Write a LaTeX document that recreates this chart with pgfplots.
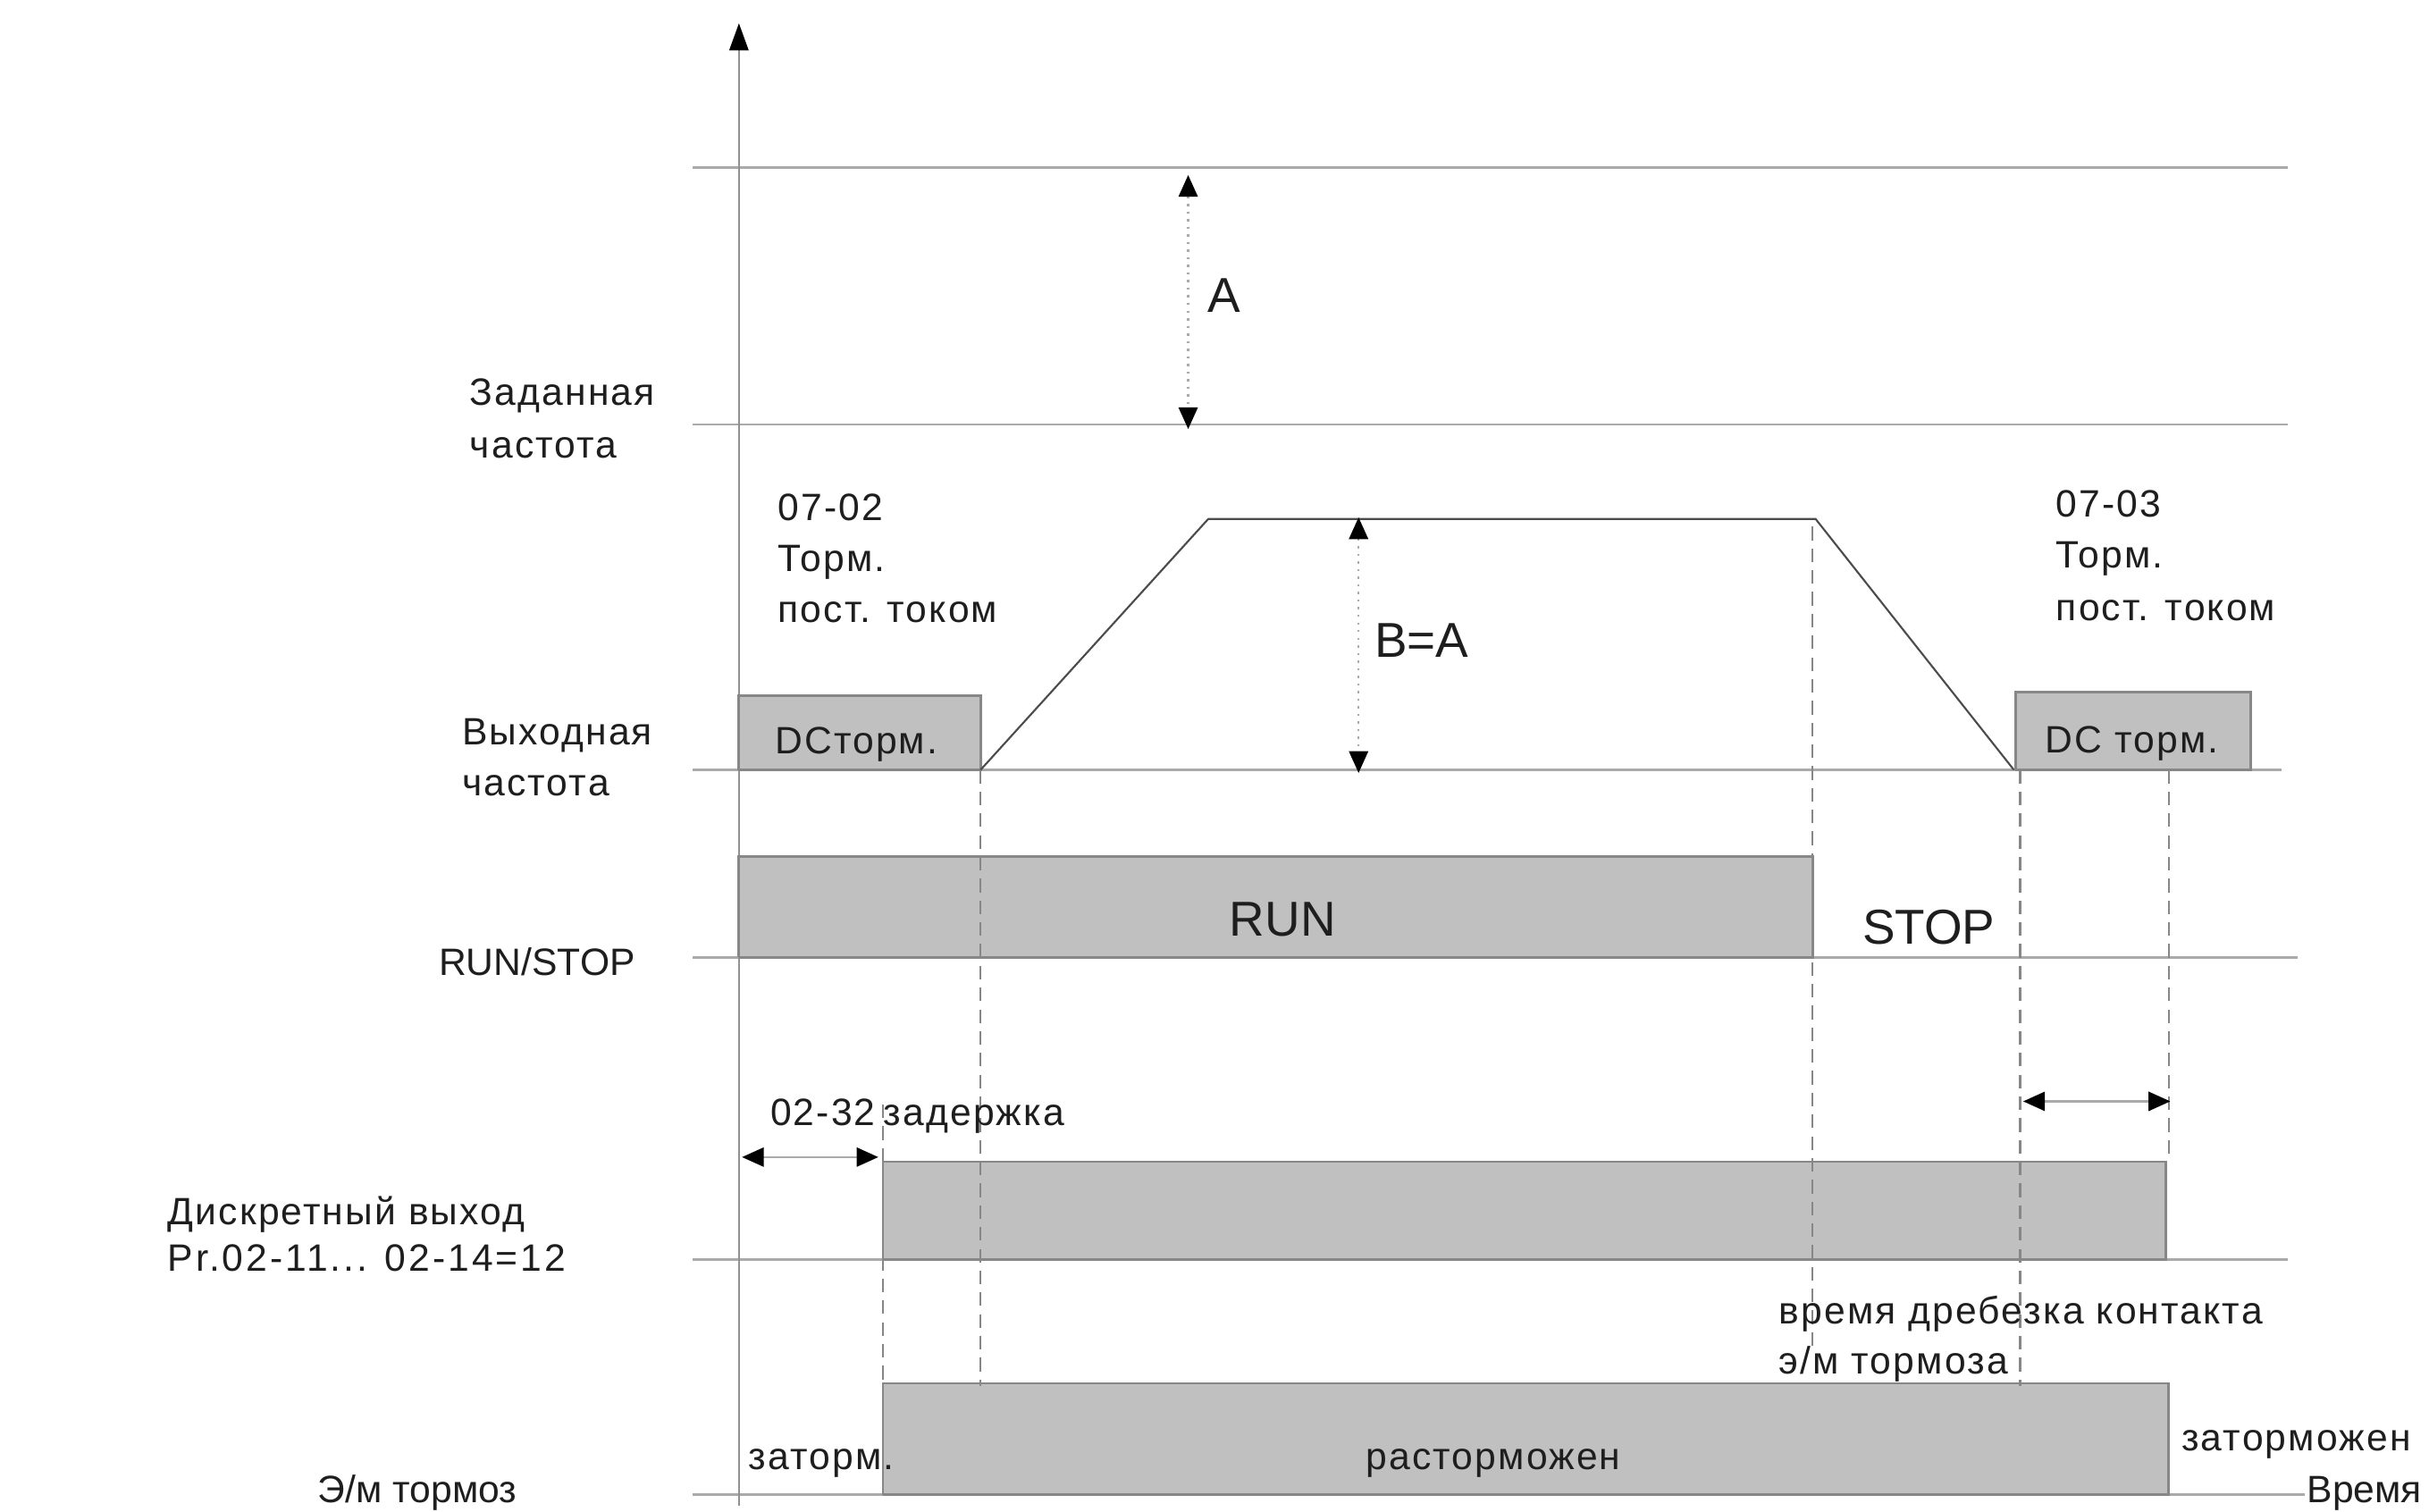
\documentclass[border=0pt]{standalone}
\usepackage{fontspec}
\setmainfont{Liberation Sans}
\newfontfamily\spaced[LetterSpace=5]{Liberation Sans}
\newfontfamily\wide[LetterSpace=7]{Liberation Sans}
\usepackage{pgfplots}
\pgfplotsset{compat=1.18}
\usetikzlibrary{arrows.meta}

\definecolor{boxfill}{RGB}{192,192,192}
\definecolor{boxedge}{RGB}{135,135,135}
\definecolor{rule}{RGB}{170,170,170}
\definecolor{ink}{RGB}{30,30,30}

\tikzset{
  lbl/.style={font=\spaced\fontsize{14}{17}\selectfont, text=ink, inner sep=0pt,
    anchor=west, text height=10pt, text depth=0pt},
  plain/.style={lbl, font=\fontsize{14}{17}\selectfont},
  big/.style={font=\fontsize{18}{22}\selectfont, text=ink, inner sep=0pt,
    text height=13pt, text depth=0pt},
  tip/.style={arrows={Triangle[width=7pt,length=8pt,color=black]-Triangle[width=7pt,length=8pt,color=black]}},
}

\begin{document}
\begin{tikzpicture}
\begin{axis}[
    x=0.02cm, y=0.02cm, y dir=reverse,
    xmin=0, xmax=1568, ymin=0, ymax=976,
    hide axis, clip=false,
]
% frame the page to the reference's extent
\path (axis cs:0,0) rectangle (axis cs:1568,976);

% level lines
\addplot[rule, line width=0.9pt] coordinates {(447,108) (1477,108)};
\addplot[rule, line width=0.9pt] coordinates {(447,274) (1477,274)};
\addplot[rule, line width=0.9pt] coordinates {(447,497) (1473,497)};
\addplot[rule, line width=0.9pt] coordinates {(447,618) (1483,618)};
\addplot[rule, line width=0.9pt] coordinates {(447,813) (1477,813)};
\addplot[rule, line width=0.9pt] coordinates {(447,965) (1488,965)};

% time axis (vertical)
\addplot[rule!85!black, line width=0.8pt, -{Triangle[width=7pt,length=10pt,color=black]}]
    coordinates {(477,972) (477,15)};

% gray state boxes
\addplot[fill=boxfill, draw=boxedge, line width=0.9pt] coordinates {(477,497) (477,449) (633,449) (633,497) (477,497)};
\addplot[fill=boxfill, draw=boxedge, line width=0.9pt] coordinates {(1301,497) (1301,447) (1453,447) (1453,497) (1301,497)};
\addplot[fill=boxfill, draw=boxedge, line width=0.9pt] coordinates {(477,618) (477,553) (1170,553) (1170,618) (477,618)};
\addplot[fill=boxfill, draw=boxedge, line width=0.9pt] coordinates {(570,813) (570,750) (1398,750) (1398,813) (570,813)};
\addplot[fill=boxfill, draw=boxedge, line width=0.9pt] coordinates {(570,965) (570,893) (1400,893) (1400,965) (570,965)};

% output frequency profile
\addplot[black!70, line width=0.7pt] coordinates {(633,497) (780,335) (1172,335) (1300,497)};

% dashed markers
\addplot[boxedge, line width=0.8pt, dash pattern=on 5pt off 3pt] coordinates {(633,497) (633,895)};
\addplot[boxedge, line width=0.8pt, dash pattern=on 5pt off 3pt] coordinates {(1170,340) (1170,872)};
\addplot[boxedge, line width=0.8pt, dash pattern=on 5pt off 3pt] coordinates {(1304,497) (1304,895)};
\addplot[boxedge, line width=0.8pt, dash pattern=on 5pt off 3pt] coordinates {(1400,497) (1400,750)};
\addplot[boxedge, line width=0.8pt, dash pattern=on 5pt off 3pt] coordinates {(570,713) (570,965)};

% A and B=A dimension arrows
\addplot[rule, line width=0.8pt, dotted, tip] coordinates {(767,113) (767,277)};
\addplot[rule, line width=0.8pt, dotted, tip] coordinates {(877,334) (877,499)};

% delay arrows
\addplot[rule, line width=0.8pt, tip] coordinates {(479,747) (567,747)};
\addplot[rule, line width=0.8pt, tip] coordinates {(1306,711) (1401,711)};

% labels
\node[lbl] at (axis cs:303,253) {Заданная};
\node[lbl] at (axis cs:303,287) {частота};
\node[lbl] at (axis cs:298,472) {Выходная};
\node[lbl] at (axis cs:298,505) {частота};
\node[plain] at (axis cs:283,621) {RUN/STOP};
\node[lbl] at (axis cs:108,782) {Дискретный выход};
\node[lbl, font=\wide\fontsize{14}{17}\selectfont] at (axis cs:108,812) {Pr.02-11... 02-14=12};
\node[plain] at (axis cs:205,961) {Э/м тормоз};

\node[lbl] at (axis cs:502,327) {07-02};
\node[lbl] at (axis cs:502,360) {Торм.};
\node[lbl] at (axis cs:502,393) {пост. током};
\node[lbl] at (axis cs:1327,325) {07-03};
\node[lbl] at (axis cs:1327,358) {Торм.};
\node[lbl] at (axis cs:1327,392) {пост. током};
\node[lbl] at (axis cs:500,478) {DCторм.};
\node[lbl] at (axis cs:1320,477) {DC торм.};

\node[big] at (axis cs:790,190) {A};
\node[big, anchor=west] at (axis cs:887,413) {B=A};
\node[big] at (axis cs:828,593) {RUN};
\node[big] at (axis cs:1245,598) {STOP};

\node[lbl] at (axis cs:497,718) {02-32};
\node[lbl] at (axis cs:570,718) {задержка};
\node[lbl] at (axis cs:1148,846) {время дребезка контакта};
\node[lbl] at (axis cs:1148,878) {э/м тормоза};
\node[lbl] at (axis cs:483,940) {заторм.};
\node[lbl, anchor=center] at (axis cs:964,940) {расторможен};
\node[lbl] at (axis cs:1408,928) {заторможен};
\node[plain] at (axis cs:1489,961) {Время};
\end{axis}
\end{tikzpicture}
\end{document}
